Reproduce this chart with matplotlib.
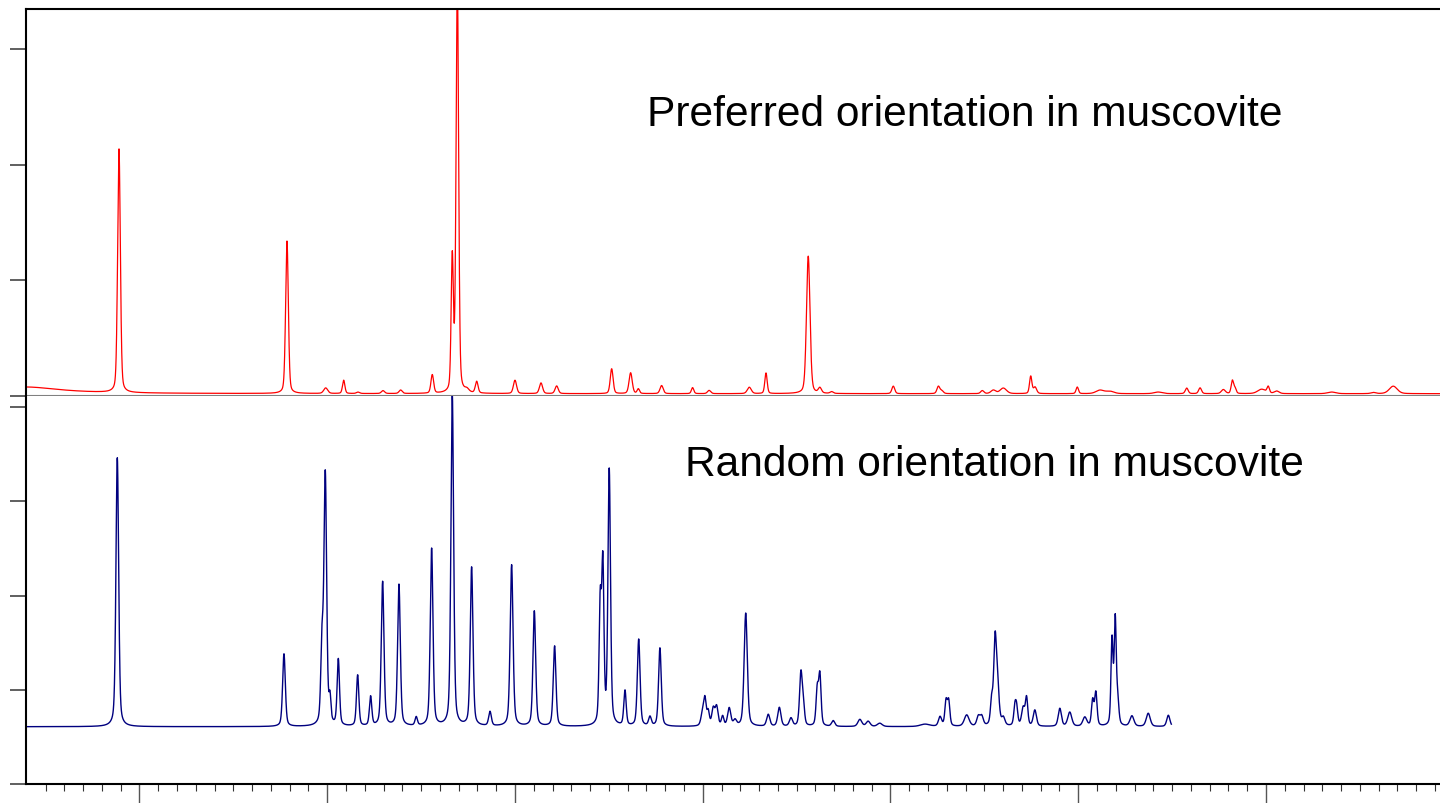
import numpy as np
import matplotlib.pyplot as plt

plt.rcParams['font.family'] = ['Liberation Sans', 'DejaVu Sans']

# 2-theta window (degrees) shared by both patterns
two_theta_min, two_theta_max = 3.955, 79.27
random_scan_end = 64.96
major_ticks = [10, 20, 30, 40, 50, 60, 70]

# Preferred orientation pattern: reflection positions, net heights (counts), FWHM (deg)
pref_pos = [8.908, 17.856, 19.918, 20.876, 21.64, 22.97, 23.91, 25.595, 26.66, 26.93,
            27.44, 27.96, 30.0, 31.385, 32.22, 35.15, 36.16, 36.57, 37.81, 39.46,
            40.34, 42.48, 43.37, 45.62, 46.24, 46.87, 50.15, 52.55, 52.73, 54.89,
            55.48, 56.01, 57.47, 57.70, 59.95, 61.16, 61.69, 64.26, 65.78, 66.49,
            67.73, 68.21, 68.35, 69.77, 70.12, 70.57, 73.50, 75.72, 76.78]
pref_height = [2110, 1320, 48, 115, 12, 25, 30, 160, 1150, 3550,
               25, 100, 115, 92, 66, 215, 180, 40, 70, 52,
               28, 55, 178, 1190, 45, 15, 65, 62, 25, 26,
               30, 48, 150, 55, 57, 30, 20, 14, 48, 50,
               35, 112, 45, 38, 55, 22, 14, 10, 65]
pref_fwhm = [0.17, 0.17, 0.25, 0.15, 0.2, 0.2, 0.2, 0.17, 0.14, 0.16,
             0.25, 0.17, 0.2, 0.2, 0.2, 0.18, 0.2, 0.15, 0.2, 0.15,
             0.2, 0.25, 0.15, 0.22, 0.2, 0.2, 0.18, 0.18, 0.2, 0.2,
             0.3, 0.4, 0.15, 0.2, 0.15, 0.5, 0.5, 0.5, 0.18, 0.18,
             0.25, 0.15, 0.15, 0.5, 0.15, 0.3, 0.5, 0.3, 0.5]
pref_background = 20
pref_lowangle = (3.9, 58, 2.3)   # centre, height, half width of low-angle scatter

# Random orientation pattern
rand_pos = [8.818, 17.696, 19.72, 19.896, 20.146, 20.59, 21.62, 22.31, 22.95, 23.82,
            24.74, 25.56, 26.66, 27.69, 28.67, 29.82, 31.03, 32.11, 34.54, 34.68,
            35.02, 35.86, 36.59, 37.19, 37.72, 40.0, 40.12, 40.29, 40.56, 40.74,
            41.06, 41.41, 41.72, 42.29, 43.49, 44.08, 44.70, 45.23, 45.36, 46.10,
            46.24, 46.95, 48.37, 48.81, 49.43, 51.84, 52.64, 52.96, 53.10, 54.06,
            54.68, 54.86, 55.39, 55.57, 55.70, 56.01, 56.63, 56.72, 57.07, 57.25,
            57.69, 59.02, 59.55, 60.35, 60.77, 60.94, 61.80, 61.97, 62.10, 62.86,
            63.73, 64.80]
rand_height = [2850, 770, 800, 2650, 250, 700, 540, 310, 1530, 1500,
               90, 1880, 3520, 1680, 150, 1710, 1220, 850, 1250, 1650,
               2700, 370, 920, 95, 830, 150, 250, 150, 180, 200,
               100, 190, 60, 1200, 125, 200, 85, 560, 200, 380,
               530, 60, 75, 55, 35, 25, 100, 260, 260, 120,
               100, 100, 250, 850, 400, 80, 190, 170, 190, 290,
               170, 190, 150, 95, 270, 350, 900, 1100, 250, 110,
               140, 120]
rand_fwhm = [0.17, 0.17, 0.15, 0.17, 0.12, 0.15, 0.15, 0.15, 0.17, 0.17,
             0.15, 0.17, 0.17, 0.17, 0.17, 0.18, 0.17, 0.17, 0.14, 0.14,
             0.16, 0.15, 0.17, 0.17, 0.17, 0.2, 0.15, 0.15, 0.18, 0.18,
             0.15, 0.2, 0.2, 0.2, 0.2, 0.2, 0.2, 0.17, 0.15, 0.15,
             0.15, 0.2, 0.25, 0.25, 0.3, 0.6, 0.2, 0.15, 0.15, 0.3,
             0.2, 0.2, 0.15, 0.17, 0.2, 0.2, 0.15, 0.15, 0.2, 0.15,
             0.2, 0.2, 0.25, 0.25, 0.15, 0.15, 0.13, 0.13, 0.15, 0.25,
             0.25, 0.2]
rand_background = 610


def pattern(x, pos, height, fwhm, base, eta=0.3):
    """Sum of pseudo-Voigt reflections on a flat background."""
    y = np.full_like(x, float(base))
    for p, h, w in zip(pos, height, fwhm):
        d = (x - p) / (w / 2.0)
        y += h * (eta / (1.0 + d ** 2) + (1 - eta) * np.exp(-np.log(2) * d ** 2))
    return y


step = 0.005
x_pref = np.arange(two_theta_min, two_theta_max + step, step)
x_rand = np.arange(two_theta_min, random_scan_end + step, step)

y_pref = pattern(x_pref, pref_pos, pref_height, pref_fwhm, pref_background)
c, h, hw = pref_lowangle
y_pref += h / (1.0 + ((x_pref - c) / hw) ** 2)
y_rand = pattern(x_rand, rand_pos, rand_height, rand_fwhm, rand_background, eta=0.4)

W, H = 1440, 804
fig = plt.figure(figsize=(W / 100, H / 100), dpi=100)
left = 26 / W
ax_top = fig.add_axes([left, 1 - 397 / H, 1 - left, (397 - 10) / H])
ax_bot = fig.add_axes([left, 1 - 785.3 / H, 1 - left, (785.3 - 397) / H])

ax_top.plot(x_pref, y_pref, color='#ff0000', lw=0.9)
ax_bot.plot(x_rand, y_rand, color='#00007f', lw=1.0)

ax_top.set_ylim(0, (397.3 - 10) / 115.6 * 1000)
ax_bot.set_ylim(0, (785.3 - 397) / 94.4 * 1000)
for ax in (ax_top, ax_bot):
    ax.set_xlim(two_theta_min, two_theta_max)
    ax.spines['right'].set_visible(False)
    ax.spines['left'].set_linewidth(1.5)
    ax.spines['left'].set_color('black')
    ax.tick_params(axis='y', direction='out', length=11.5, width=1.2,
                   color='#444444', labelleft=False)

ax_top.set_yticks([0, 1000, 2000, 3000])
ax_top.spines['top'].set_linewidth(1.5)
ax_top.spines['bottom'].set_color('#808080')
ax_top.spines['bottom'].set_linewidth(1.5)
ax_top.tick_params(axis='x', bottom=False, labelbottom=False)

ax_bot.set_yticks([0, 1000, 2000, 3000, 4000])
ax_bot.spines['top'].set_visible(False)
ax_bot.spines['bottom'].set_linewidth(1.5)
ax_bot.set_xticks(major_ticks)
ax_bot.set_xticks(np.arange(5, 80, 1), minor=True)
ax_bot.tick_params(axis='x', which='major', direction='out', length=13.5, width=1.0,
                   color='#555555', labelbottom=False)
ax_bot.tick_params(axis='x', which='minor', direction='out', length=5, width=0.8,
                   color='#333333')

fig.text(647 / W, 1 - 126 / H, 'Preferred orientation in muscovite',
         fontsize=30.6, ha='left', va='baseline', color='black')
fig.text(685 / W, 1 - 476 / H, 'Random orientation in muscovite',
         fontsize=30.6, ha='left', va='baseline', color='black')

fig.savefig('out.png', dpi=100)
